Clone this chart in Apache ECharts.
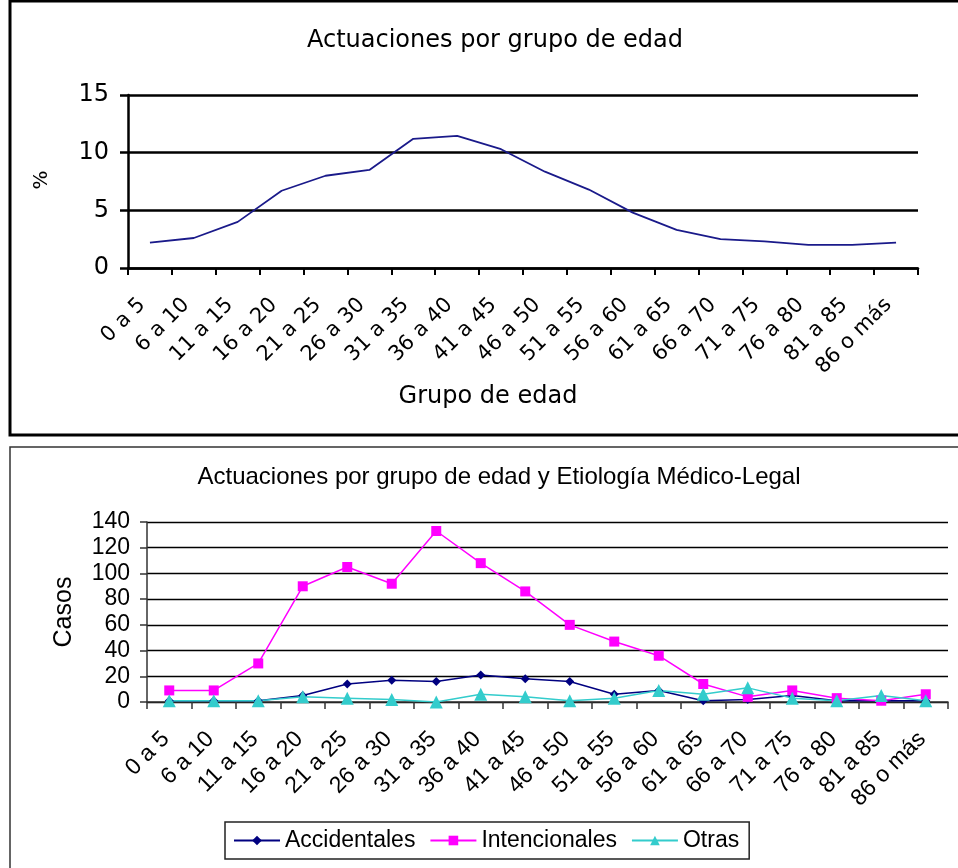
<!DOCTYPE html>
<html>
<head>
<meta charset="utf-8">
<script src="https://cdn.jsdelivr.net/npm/echarts@6/dist/echarts.min.js"></script>
<style>
html, body { margin: 0; padding: 0; background: #fff; }
#main { width: 958px; height: 868px; }
</style>
</head>
<body>
<div id="main"></div>
<script>
// grupos de edad (eje x de los dos graficos)
var grupos = ['0 a 5', '6 a 10', '11 a 15', '16 a 20', '21 a 25', '26 a 30', '31 a 35', '36 a 40', '41 a 45',
    '46 a 50', '51 a 55', '56 a 60', '61 a 65', '66 a 70', '71 a 75', '76 a 80', '81 a 85', '86 o más']

// grafico 1: % de actuaciones
var porcentaje = [2.2, 2.6, 4.0, 6.7, 8.0, 8.5, 11.2, 11.45, 10.3, 8.35, 6.8, 4.8, 3.3, 2.5, 2.3, 2.0, 2.0, 2.2]

// grafico 2: casos por etiologia
var accidentales = [1, 1, 1, 5, 14, 17, 16, 21, 18, 16, 6, 9, 1, 2, 5, 1, 1, 1]
var intencionales = [9, 9, 30, 90, 105, 92, 133, 108, 86, 60, 47, 36, 14, 4, 9, 3, 1, 6]
var otras = [1, 1, 1, 4, 3, 2, 0, 6, 4, 1, 3, 9, 6, 11, 3, 1, 5, 1]

var fontTop = 'DejaVu Sans'
var fontBottom = 'Liberation Sans'

var myChart = echarts.init(document.getElementById('main'))

var option = {
    backgroundColor: '#fff',
    animation: false,
    title: [{
        text: 'Actuaciones por grupo de edad',
        left: 490,
        top: 24,
        textAlign: 'center',
        textStyle: { fontFamily: fontTop, fontSize: 24, fontWeight: 'normal', color: '#000' }
    }, {
        text: 'Actuaciones por grupo de edad y Etiología Médico-Legal',
        left: 494,
        top: 460,
        textAlign: 'center',
        textStyle: { fontFamily: fontBottom, fontSize: 24, fontWeight: 'normal', color: '#000' }
    }],
    legend: {
        data: ['Accidentales', 'Intencionales', 'Otras'],
        left: 225,
        top: 822,
        padding: [7, 10, 7, 8],
        borderColor: '#222',
        borderWidth: 1.5,
        itemWidth: 46,
        itemHeight: 12,
        itemGap: 14,
        textStyle: { fontFamily: fontBottom, fontSize: 23, color: '#000' }
    },
    grid: [
        { left: 128, right: 40, top: 95, height: 173 },
        { left: 147, right: 10, top: 522, height: 180 }
    ],
    xAxis: [{
        type: 'category',
        gridIndex: 0,
        data: grupos,
        boundaryGap: true,
        axisLine: { lineStyle: { color: '#000', width: 2.5 } },
        axisTick: { show: true, interval: 0, length: 7, lineStyle: { color: '#000', width: 2 } },
        axisLabel: {
            interval: 0,
            rotate: 45,
            margin: 26,
            padding: [0, 11, 0, 0],
            fontFamily: fontTop,
            fontSize: 21,
            color: '#000'
        },
        splitLine: { show: false }
    }, {
        type: 'category',
        gridIndex: 1,
        data: grupos,
        boundaryGap: true,
        axisLine: { lineStyle: { color: '#333', width: 1.5 } },
        axisTick: { show: true, interval: 0, length: 7, lineStyle: { color: '#333', width: 1.5 } },
        axisLabel: {
            interval: 0,
            rotate: 45,
            margin: 30,
            padding: [0, 5, 0, 0],
            fontFamily: fontBottom,
            fontSize: 23,
            color: '#000'
        },
        splitLine: { show: false }
    }],
    yAxis: [{
        type: 'value',
        gridIndex: 0,
        min: 0,
        max: 15,
        interval: 5,
        axisLine: { show: true, lineStyle: { color: '#000', width: 2.5 } },
        axisTick: { show: true, length: 8, lineStyle: { color: '#000', width: 2.5 } },
        axisLabel: { margin: 19, fontFamily: fontTop, fontSize: 24, color: '#000' },
        splitLine: { show: true, lineStyle: { color: '#000', width: 2.5 } }
    }, {
        type: 'value',
        gridIndex: 1,
        min: 0,
        max: 140,
        interval: 20,
        axisLine: { show: true, lineStyle: { color: '#333', width: 1.5 } },
        axisTick: { show: true, length: 7, lineStyle: { color: '#333', width: 1.5 } },
        axisLabel: { margin: 17, fontFamily: fontBottom, fontSize: 23, color: '#000' },
        splitLine: { show: true, lineStyle: { color: '#000', width: 1.3 } }
    }],
    series: [{
        name: '%',
        type: 'line',
        xAxisIndex: 0,
        yAxisIndex: 0,
        data: porcentaje,
        showSymbol: false,
        symbol: 'none',
        lineStyle: { color: '#1a1a8a', width: 1.8 }
    }, {
        name: 'Accidentales',
        type: 'line',
        xAxisIndex: 1,
        yAxisIndex: 1,
        data: accidentales,
        symbol: 'diamond',
        symbolSize: 9,
        itemStyle: { color: '#000080' },
        lineStyle: { color: '#000080', width: 1.5 }
    }, {
        name: 'Intencionales',
        type: 'line',
        xAxisIndex: 1,
        yAxisIndex: 1,
        data: intencionales,
        symbol: 'rect',
        symbolSize: 10,
        itemStyle: { color: '#ff00ff' },
        lineStyle: { color: '#ff00ff', width: 1.5 }
    }, {
        name: 'Otras',
        type: 'line',
        xAxisIndex: 1,
        yAxisIndex: 1,
        data: otras,
        symbol: 'triangle',
        symbolSize: 13,
        itemStyle: { color: '#33cccc' },
        lineStyle: { color: '#33cccc', width: 1.5 }
    }],
    graphic: [
        // marcos de los dos graficos
        { type: 'rect', shape: { x: 10, y: 1, width: 960, height: 434 }, style: { fill: 'none', stroke: '#000', lineWidth: 3 }, z: 10 },
        { type: 'rect', shape: { x: 10, y: 447, width: 960, height: 430 }, style: { fill: 'none', stroke: '#333', lineWidth: 1.5 }, z: 10 },
        // nombres de los ejes
        { type: 'text', x: 42, y: 180, rotation: Math.PI / 2, style: { text: '%', fontFamily: fontTop, fontSize: 20, fill: '#000', align: 'center', verticalAlign: 'middle' } },
        { type: 'text', x: 488, y: 397, style: { text: 'Grupo de edad', fontFamily: fontTop, fontSize: 24, fill: '#000', align: 'center', verticalAlign: 'middle' } },
        { type: 'text', x: 64, y: 612, rotation: Math.PI / 2, style: { text: 'Casos', fontFamily: fontBottom, fontSize: 25, fill: '#000', align: 'center', verticalAlign: 'middle' } }
    ]
}

myChart.setOption(option)
</script>
</body>
</html>
